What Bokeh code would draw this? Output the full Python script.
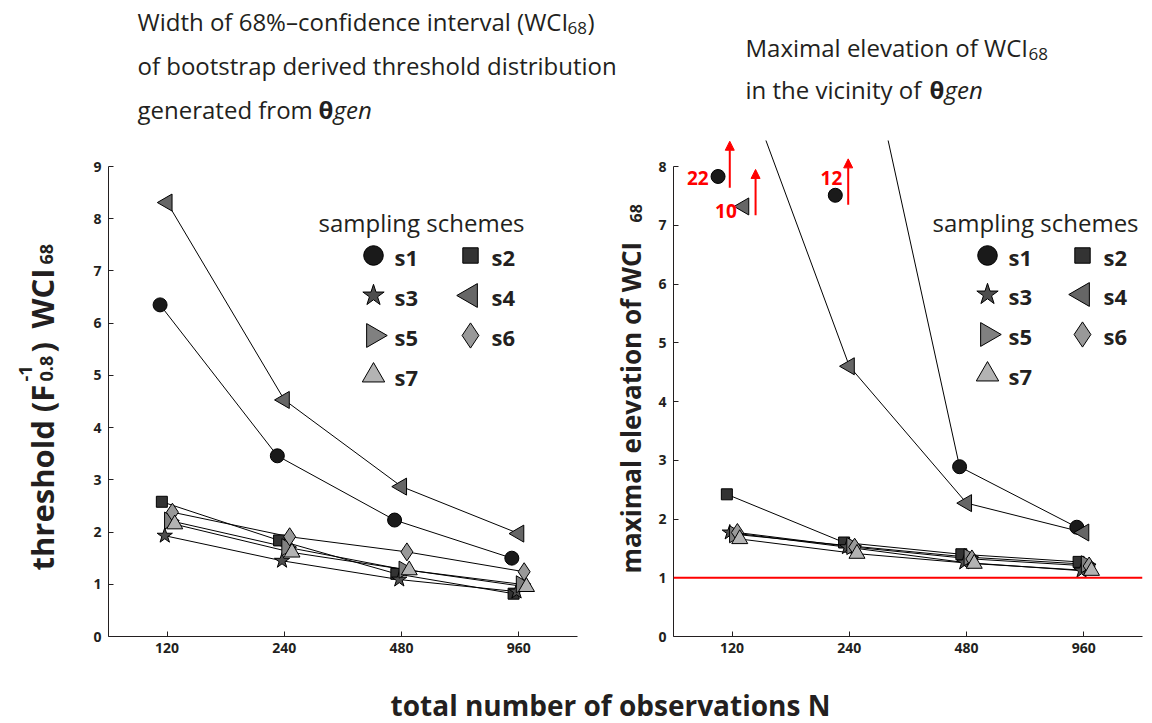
import numpy as np
from bokeh.plotting import figure
from bokeh.models import Range1d, Label, Span, Arrow, NormalHead, FixedTicker
from bokeh.layouts import column, row
from bokeh.embed import file_html
from bokeh.resources import INLINE

FONT = "Open Sans"
INK = "#231f20"

# ---------------- data ----------------
N = [120, 240, 480, 960]
schemes = ["s1", "s2", "s3", "s4", "s5", "s6", "s7"]

# left panel: WCI68 of threshold
left_s1 = [6.35, 3.46, 2.23, 1.50]
left_s2 = [2.58, 1.84, 1.20, 0.82]
left_s3 = [1.93, 1.45, 1.09, 0.86]
left_s4 = [8.31, 4.53, 2.87, 1.97]
left_s5 = [2.22, 1.71, 1.28, 1.00]
left_s6 = [2.38, 1.91, 1.62, 1.24]
left_s7 = [2.15, 1.61, 1.27, 0.95]

# right panel: maximal elevation of WCI68
right_s1 = [22, 12, 2.89, 1.86]
right_s2 = [2.42, 1.60, 1.40, 1.27]
right_s3 = [1.77, 1.52, 1.26, 1.12]
right_s4 = [10, 4.60, 2.27, 1.77]
right_s5 = [1.74, 1.54, 1.35, 1.23]
right_s6 = [1.77, 1.52, 1.32, 1.20]
right_s7 = [1.66, 1.41, 1.24, 1.12]

left_vals = [left_s1, left_s2, left_s3, left_s4, left_s5, left_s6, left_s7]
right_vals = [right_s1, right_s2, right_s3, right_s4, right_s5, right_s6, right_s7]

# off-scale points of the right panel (scheme index, N index)
off_scheme = [0, 3, 0]
off_n_idx = [0, 0, 1]

# ---------------- styles ----------------
markers = ["circle", "square", "star", "triangle", "triangle", "diamond", "triangle"]
angles = [0.0, 0.0, 0.0, np.pi / 2, -np.pi / 2, 0.0, 0.0]
fills = ["#1a1a1a", "#333333", "#4d4d4d", "#666666", "#808080", "#999999", "#b3b3b3"]
x_offsets = [-0.06, -0.045, -0.02, 0.0, 0.02, 0.045, 0.065]
msizes = [14, 11, 16, 17, 17, 18, 16]
LEG_SCALE = 1.4

# where the off-scale markers/arrows/labels are shown
off_show_y = [7.83, 7.32, 7.51]
off_dx = [-0.12, 0.10, -0.12]
arrow_dx = [-0.02, 0.20, -0.01]
arrow_y0 = [7.64, 7.17, 7.35]
arrow_y1 = [8.43, 7.95, 8.13]
label_dx = [-0.20, 0.04, -0.06]
label_y = [7.80, 7.25, 7.80]

# frames in page pixels
LF = dict(left=108, right=577, top=140, bottom=636)
RF = dict(left=673, right=1142, top=140, bottom=636)
L_YMAX = (LF["bottom"] - LF["top"]) / ((636 - 166) / 9.0)
R_YMAX = (RF["bottom"] - RF["top"]) / 58.75
XR = (-0.5, 3.5)
ROW_TOP, ROW_BOTTOM = 130, 680
PAGE_W, PAGE_H = 1144, 723
L_STRIP, R_STRIP = (0, 64), (600, 655)


def add_text(p, fr, x, y, text, size, style="bold", color=INK, align="left",
             baseline="alphabetic", angle=0.0):
    p.add_layout(Label(x=x - fr["left"], y=fr["bottom"] - y, x_units="screen", y_units="screen",
                       text=text, text_font=FONT, text_font_size=f"{size}px",
                       text_font_style=style, text_color=color, text_align=align,
                       text_baseline=baseline, angle=angle, angle_units="rad"))


def px2data(fr, yr, px, py):
    x = XR[0] + (px - fr["left"]) / (fr["right"] - fr["left"]) * (XR[1] - XR[0])
    y = yr[0] + (fr["bottom"] - py) / (fr["bottom"] - fr["top"]) * (yr[1] - yr[0])
    return x, y


def blank_fig(width, height, top=0, bottom=0):
    f = figure(width=width, height=height, x_range=Range1d(0, 1), y_range=Range1d(0, 1),
               output_backend="svg", toolbar_location=None, min_border_left=0,
               min_border_right=0, min_border_top=top, min_border_bottom=bottom)
    f.axis.visible = False
    f.xgrid.visible = False
    f.ygrid.visible = False
    f.outline_line_color = None
    return f


def make_panel(x0, x1, fr, ymax, yticks, values):
    p = figure(width=x1 - x0, height=ROW_BOTTOM - ROW_TOP, x_range=Range1d(*XR),
               y_range=Range1d(0, ymax), output_backend="svg", toolbar_location=None,
               min_border_left=fr["left"] - x0, min_border_right=x1 - fr["right"],
               min_border_top=fr["top"] - ROW_TOP, min_border_bottom=ROW_BOTTOM - fr["bottom"])
    p.outline_line_color = None
    p.xgrid.visible = False
    p.ygrid.visible = False
    for ax in (p.xaxis[0], p.yaxis[0]):
        ax.axis_line_color = INK
        ax.major_tick_line_color = INK
        ax.minor_tick_line_color = None
        ax.major_tick_in = 5
        ax.major_tick_out = 0
        ax.major_label_text_font = FONT
        ax.major_label_text_font_size = "14px"
        ax.major_label_text_font_style = "bold"
        ax.major_label_text_color = INK
    p.xaxis[0].ticker = FixedTicker(ticks=list(range(len(N))))
    p.xaxis[0].major_label_overrides = {i: str(n) for i, n in enumerate(N)}
    p.xaxis[0].major_label_standoff = 6
    p.yaxis[0].ticker = FixedTicker(ticks=yticks)
    p.yaxis[0].bounds = (0, yticks[-1])
    p.yaxis[0].major_label_standoff = 7

    xs_base = np.arange(len(N))
    for i, vals in enumerate(values):
        p.line(xs_base + x_offsets[i], vals, line_color="black", line_width=1)
    for i, vals in enumerate(values):
        p.scatter(xs_base + x_offsets[i], vals, marker=markers[i], size=msizes[i],
                  angle=angles[i], fill_color=fills[i], line_color="black", line_width=1)
    return p


pl = make_panel(L_STRIP[1], R_STRIP[0], LF, L_YMAX, list(range(10)), left_vals)
pr = make_panel(R_STRIP[1], PAGE_W, RF, R_YMAX, list(range(9)), right_vals)

# reference line at 1 in right panel
pr.add_layout(Span(location=1, dimension="width", line_color="#ff0000", line_width=2))

# off-scale markers, arrows and value labels
for k in range(len(off_scheme)):
    s, j = off_scheme[k], off_n_idx[k]
    pr.scatter([j + off_dx[k]], [off_show_y[k]], marker=markers[s], size=msizes[s],
               angle=angles[s], fill_color=fills[s], line_color="black", line_width=1)
    ax_ = j + arrow_dx[k]
    pr.add_layout(Arrow(x_start=ax_, y_start=arrow_y0[k], x_end=ax_, y_end=arrow_y1[k],
                        line_color="#ff0000", line_width=2,
                        end=NormalHead(size=9, fill_color="#ff0000", line_color="#ff0000")))
    pr.add_layout(Label(x=j + label_dx[k], y=label_y[k], text=str(int(right_vals[s][j])),
                        text_font=FONT, text_font_size="19px", text_font_style="bold",
                        text_color="#ff0000", text_align="right", text_baseline="middle"))


# legends
def add_legend(p, fr, yr, title_x, col_x, row_y):
    add_text(p, fr, title_x, row_y[0] - 33, "sampling schemes", 24, style="normal",
             baseline="middle")
    for i, name in enumerate(schemes):
        r, c = divmod(i, 2)
        mx, my = px2data(fr, yr, col_x[c], row_y[r])
        p.scatter([mx], [my], marker=markers[i], size=msizes[i] * LEG_SCALE, angle=angles[i],
                  fill_color=fills[i], line_color="black", line_width=1)
        add_text(p, fr, col_x[c] + 21, row_y[r] + 1, name, 22, baseline="middle")


add_legend(pl, LF, (0, L_YMAX), 318, [373, 470], [255, 295, 335, 375])
add_legend(pr, RF, (0, R_YMAX), 932, [987, 1082], [255, 294, 334, 374])

# titles (own strip on top)
TF = dict(left=0, right=PAGE_W, top=0, bottom=ROW_TOP)
pt = blank_fig(PAGE_W, ROW_TOP)
add_text(pt, TF, 137, 21, "Width of 68%–confidence interval (WCI", 24, style="normal")
add_text(pt, TF, 567, 27, "68", 17, style="normal")
add_text(pt, TF, 587, 21, ")", 24, style="normal")
add_text(pt, TF, 137, 65, "of bootstrap derived threshold distribution", 24, style="normal")
add_text(pt, TF, 137, 109, "generated from", 24, style="normal")
add_text(pt, TF, 318, 109, "θ", 24, style="bold")
add_text(pt, TF, 333, 109, "gen", 24, style="italic")

add_text(pt, TF, 745, 47, "Maximal elevation of WCI", 24, style="normal")
add_text(pt, TF, 1028, 53, "68", 17, style="normal")
add_text(pt, TF, 745, 89, "in the vicinity of", 24, style="normal")
add_text(pt, TF, 929, 89, "θ", 24, style="bold")
add_text(pt, TF, 944, 89, "gen", 24, style="italic")

# y-axis labels (own narrow strips, rotated text)
ROT = np.pi / 2
YL = dict(left=L_STRIP[0], right=L_STRIP[1], top=LF["top"], bottom=LF["bottom"])
pyl = blank_fig(L_STRIP[1] - L_STRIP[0], ROW_BOTTOM - ROW_TOP, LF["top"] - ROW_TOP,
                ROW_BOTTOM - LF["bottom"])
add_text(pyl, YL, 41, 570, "threshold (F", 31, angle=ROT)
add_text(pyl, YL, 25, 381, "-1", 18, angle=ROT)
add_text(pyl, YL, 46, 381, "0.8", 18, angle=ROT)
add_text(pyl, YL, 41, 352, ")", 31, angle=ROT)
add_text(pyl, YL, 41, 328, "WCI", 31, angle=ROT)
add_text(pyl, YL, 46, 264, "68", 18, angle=ROT)

YR = dict(left=R_STRIP[0], right=R_STRIP[1], top=RF["top"], bottom=RF["bottom"])
pyr = blank_fig(R_STRIP[1] - R_STRIP[0], ROW_BOTTOM - ROW_TOP, RF["top"] - ROW_TOP,
                ROW_BOTTOM - RF["bottom"])
add_text(pyr, YR, 630, 573, "maximal elevation of WCI", 26, angle=ROT)
add_text(pyr, YR, 635, 222, "68", 16, angle=ROT)

# shared x-axis label
XF = dict(left=0, right=PAGE_W, top=ROW_BOTTOM, bottom=PAGE_H)
px = blank_fig(PAGE_W, PAGE_H - ROW_BOTTOM)
add_text(px, XF, 610, 704, "total number of observations N", 28, align="center")

layout = column(pt, row(pyl, pl, pyr, pr), px)
open("out.html", "w").write(file_html(layout, INLINE))
